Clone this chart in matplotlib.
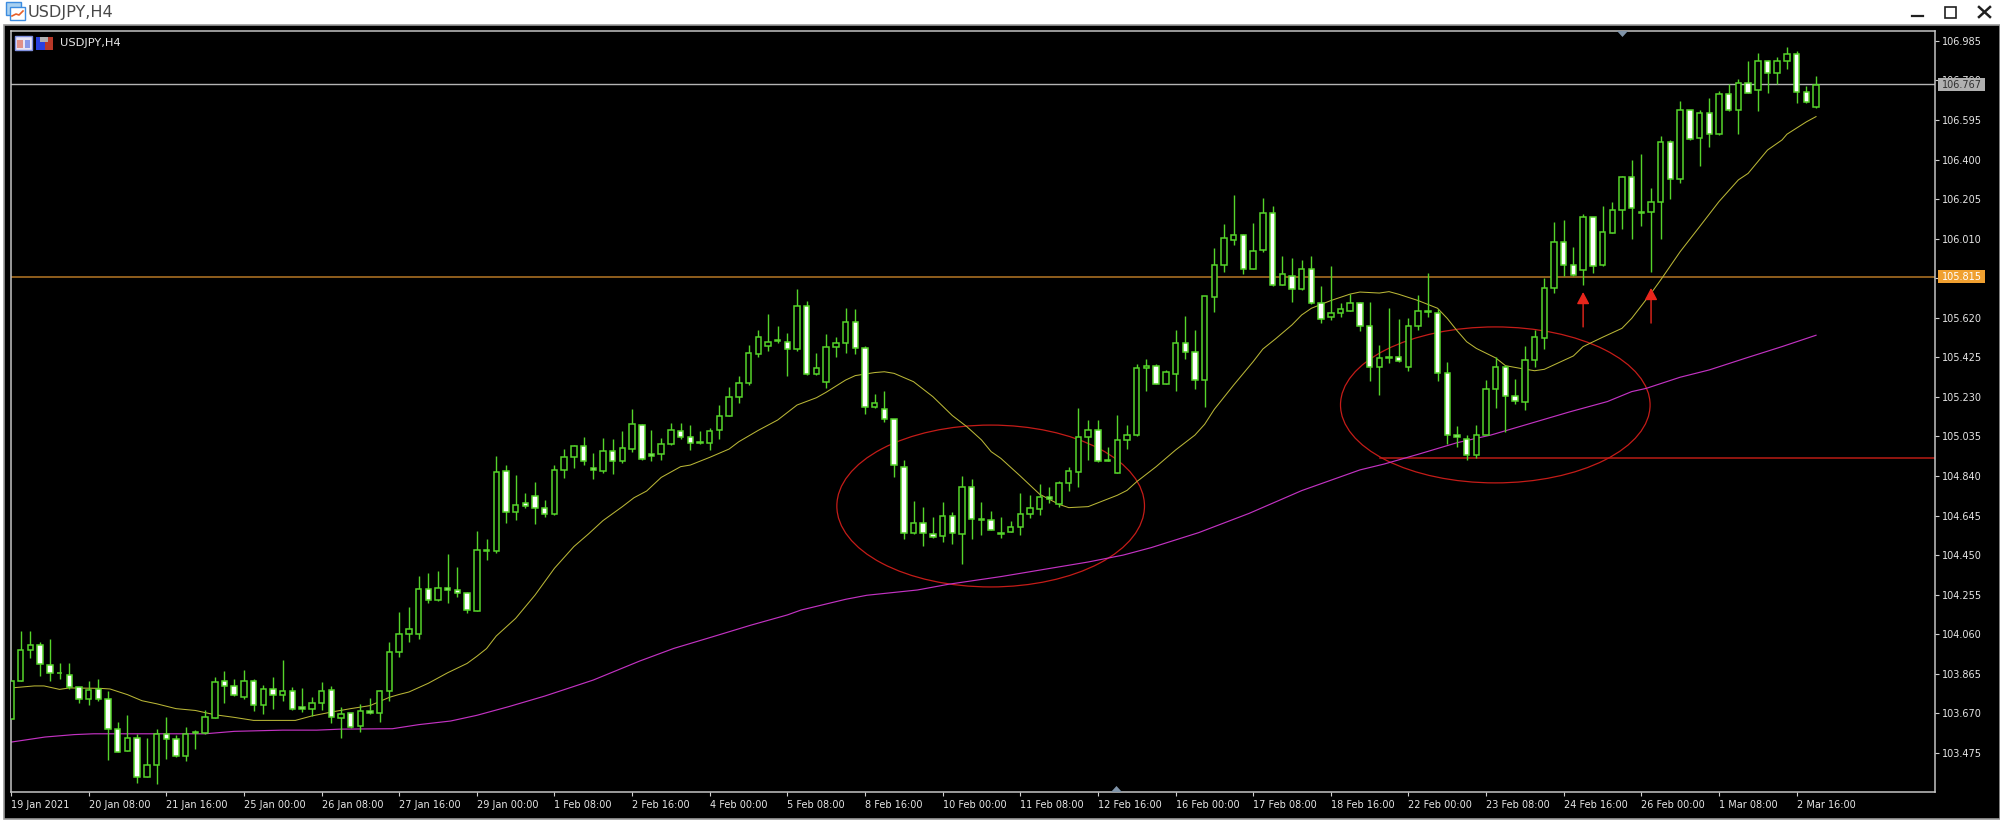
import numpy as np
from matplotlib import pyplot as plt
from matplotlib.patches import Ellipse, Rectangle, Polygon

# USDJPY H4 candles, one value per bar
opens = [103.643,103.827,103.984,104.008,103.906,103.870,103.857,103.798,103.739,103.791,
         103.739,103.594,103.486,103.546,103.354,103.415,103.569,103.541,103.458,103.574,
         103.574,103.648,103.827,103.803,103.749,103.827,103.709,103.791,103.762,103.778,
         103.703,103.689,103.719,103.786,103.648,103.671,103.606,103.683,103.671,103.778,
         103.971,104.059,104.059,104.281,104.227,104.288,104.276,104.265,104.173,104.469,
         104.469,104.863,104.664,104.708,104.743,104.684,104.651,104.868,104.934,104.990,
         104.881,104.866,104.965,104.916,104.975,105.090,104.947,104.947,104.999,105.060,
         105.031,105.008,105.004,105.065,105.138,105.228,105.297,105.442,105.479,105.511,
         105.502,105.466,105.677,105.341,105.305,105.474,105.497,105.599,105.473,105.179,
         105.172,105.119,104.886,104.557,104.610,104.556,104.546,104.641,104.556,104.786,
         104.630,104.623,104.552,104.564,104.587,104.654,104.676,104.736,104.700,104.804,
         104.861,105.031,105.067,104.919,104.856,105.018,105.041,105.371,105.384,105.292,
         105.341,105.497,105.450,105.312,105.724,105.879,106.005,106.030,105.861,105.956,
         106.139,105.783,105.825,105.760,105.862,105.695,105.622,105.645,105.654,105.695,
         105.581,105.376,105.425,105.425,105.376,105.581,105.652,105.645,105.348,105.042,
         105.024,104.945,105.041,105.269,105.379,105.235,105.203,105.414,105.522,105.767,
         105.994,105.880,105.857,106.119,105.878,106.040,106.150,106.316,106.143,106.143,
         106.191,106.485,106.305,106.646,106.508,106.628,106.525,106.724,106.645,106.778,
         106.742,106.886,106.826,106.886,106.923,106.735,106.658]
highs = [103.827,104.074,104.074,104.021,104.038,103.920,103.920,103.798,103.827,103.837,
         103.782,103.625,103.663,103.569,103.548,103.591,103.652,103.561,103.602,103.586,
         103.684,103.847,103.877,103.837,103.883,103.841,103.811,103.847,103.931,103.798,
         103.795,103.752,103.823,103.804,103.703,103.673,103.714,103.745,103.786,104.021,
         104.169,104.194,104.345,104.360,104.370,104.457,104.391,104.266,104.567,104.531,
         104.937,104.894,104.847,104.758,104.809,104.722,104.894,104.972,104.995,105.032,
         104.955,105.026,105.021,105.062,105.169,105.098,105.068,105.026,105.100,105.100,
         105.092,105.062,105.075,105.190,105.279,105.333,105.488,105.560,105.637,105.578,
         105.543,105.762,105.703,105.445,105.542,105.524,105.667,105.662,105.481,105.243,
         105.259,105.121,104.919,104.715,104.687,104.638,104.710,104.661,104.840,104.824,
         104.710,104.667,104.636,104.620,104.758,104.746,104.799,104.787,104.815,104.883,
         105.177,105.116,105.116,104.985,105.139,105.091,105.391,105.415,105.391,105.363,
         105.558,105.631,105.558,105.729,105.966,106.081,106.224,106.032,106.086,106.211,
         106.171,105.923,105.913,105.905,105.923,105.775,105.876,105.695,105.736,105.700,
         105.696,105.486,105.667,105.614,105.617,105.733,105.839,105.662,105.404,105.087,
         105.042,105.091,105.313,105.425,105.387,105.320,105.481,105.560,105.815,106.091,
         106.102,105.971,106.132,106.119,106.171,106.193,106.321,106.397,106.426,106.259,
         106.517,106.498,106.689,106.646,106.646,106.702,106.737,106.771,106.796,106.888,
         106.924,106.891,106.905,106.954,106.934,106.761,106.811]
lows = [103.643,103.827,103.944,103.854,103.831,103.837,103.788,103.722,103.712,103.729,
        103.441,103.479,103.486,103.328,103.354,103.323,103.446,103.454,103.435,103.495,
        103.569,103.647,103.722,103.754,103.742,103.683,103.668,103.693,103.729,103.688,
        103.676,103.657,103.688,103.622,103.550,103.597,103.579,103.668,103.627,103.729,
        103.949,104.021,104.038,104.215,104.225,104.214,104.243,104.164,104.173,104.427,
        104.459,104.610,104.621,104.681,104.603,104.639,104.648,104.830,104.878,104.896,
        104.824,104.855,104.848,104.902,104.960,104.921,104.916,104.919,104.995,105.022,
        104.968,104.999,104.968,105.021,105.136,105.200,105.290,105.428,105.458,105.494,
        105.333,105.458,105.340,105.340,105.274,105.428,105.448,105.440,105.147,105.177,
        105.106,104.837,104.531,104.556,104.497,104.533,104.513,104.506,104.406,104.531,
        104.549,104.572,104.533,104.562,104.549,104.633,104.648,104.705,104.687,104.764,
        104.787,104.919,104.911,104.916,104.856,104.973,105.039,105.261,105.292,105.292,
        105.261,105.417,105.267,105.179,105.650,105.848,105.979,105.836,105.861,105.945,
        105.777,105.783,105.698,105.759,105.688,105.596,105.609,105.626,105.654,105.557,
        105.310,105.238,105.399,105.404,105.359,105.560,105.626,105.310,104.998,104.985,
        104.919,104.927,105.041,105.177,105.057,105.195,105.165,105.379,105.466,105.741,
        105.828,105.826,105.782,105.843,105.877,106.037,106.056,106.010,106.074,105.846,
        106.010,106.206,106.285,106.497,106.370,106.464,106.523,106.638,106.525,106.727,
        106.638,106.727,106.773,106.849,106.681,106.681,106.656]
closes = [103.827,103.984,104.008,103.911,103.870,103.868,103.798,103.739,103.786,103.739,
          103.594,103.481,103.546,103.354,103.415,103.569,103.541,103.458,103.569,103.578,
          103.650,103.823,103.804,103.762,103.827,103.709,103.791,103.762,103.778,103.691,
          103.689,103.719,103.778,103.650,103.666,103.601,103.683,103.671,103.778,103.971,
          104.061,104.084,104.281,104.230,104.288,104.276,104.265,104.179,104.473,104.473,
          104.858,104.664,104.695,104.694,104.682,104.653,104.870,104.935,104.990,104.916,
          104.868,104.965,104.916,104.976,105.096,104.922,104.939,104.999,105.065,105.031,
          105.001,105.001,105.060,105.138,105.228,105.300,105.445,105.527,105.502,105.504,
          105.468,105.677,105.341,105.371,105.478,105.497,105.599,105.473,105.180,105.198,
          105.119,104.893,104.557,104.610,104.557,104.539,104.641,104.557,104.786,104.630,
          104.625,104.575,104.557,104.587,104.654,104.684,104.738,104.725,104.804,104.863,
          105.031,105.067,104.916,104.916,105.019,105.042,105.371,105.384,105.294,105.354,
          105.497,105.451,105.312,105.726,105.880,106.012,106.030,105.862,105.951,106.139,
          105.783,105.838,105.760,105.862,105.691,105.616,105.645,105.665,105.695,105.581,
          105.377,105.420,105.420,105.407,105.581,105.652,105.647,105.348,105.042,105.031,
          104.945,105.042,105.271,105.377,105.235,105.210,105.414,105.527,105.765,105.994,
          105.879,105.830,106.119,105.877,106.041,106.150,106.316,106.160,106.139,106.191,
          106.485,106.305,106.646,106.502,106.628,106.525,106.724,106.645,106.778,106.730,
          106.886,106.826,106.886,106.923,106.735,106.683,106.770]

# yellow moving average, sampled along the bars
fast_ma_bar = [0,2.4,3.4,5,6,9.2,10.2,12,13.5,15,17,19,21,23,25,27,29.3,31,33,35,37,39,40,41,43,45,47,48,49,50,
               52,54,56,58,59.5,61,63,64.2,65.5,67,69,70,72,74,75,77,79,81,83,84,86,87,89,90,91,93,95,97,98.5,100,101,102,
               104,106,108,109,111,114,115,116,118,120,122,123,124,126,128,129,130.3,132,133,134,136,138,139,141,142,143,145,147,148,149,150,151,153,
               154,155.5,157,158,161,162,164,166,167,169,170,172,174,176,178,179,181,182.5,183,185,186]
fast_ma = [103.795,103.805,103.805,103.788,103.795,103.793,103.790,103.762,103.732,103.717,103.693,103.684,103.663,103.650,103.635,103.635,103.635,103.657,103.676,103.693,103.708,103.749,103.763,103.775,103.818,103.870,103.916,103.951,103.989,104.051,
           104.138,104.253,104.385,104.492,104.554,104.620,104.689,104.733,104.766,104.833,104.886,104.894,104.932,104.973,105.009,105.065,105.116,105.190,105.226,105.253,105.313,105.335,105.350,105.354,105.346,105.305,105.231,105.138,105.083,105.018,104.960,104.927,
           104.840,104.750,104.700,104.684,104.689,104.745,104.769,104.812,104.886,104.968,105.042,105.095,105.169,105.289,105.404,105.466,105.516,105.585,105.634,105.667,105.705,105.737,105.747,105.742,105.749,105.736,105.705,105.667,105.617,105.557,105.502,105.469,105.422,
           105.384,105.371,105.359,105.366,105.432,105.478,105.524,105.568,105.617,105.741,105.807,105.946,106.069,106.193,106.300,106.332,106.447,106.497,106.525,106.586,106.612]

# magenta moving average
slow_ma_bar = [0,3.5,6.5,8.5,15,20,23,28,31.5,34,39.3,42,45.3,48,51.3,55,60,64.8,68.3,72,76.2,80,81.4,86,88.2,93.4,96.7,102,
               111,114.6,117.5,122.4,127.6,133,139,141.5,145,149,152.5,160.6,164.5,167,168.5,172,175,179,182.5,186]
slow_ma = [103.528,103.553,103.565,103.569,103.569,103.569,103.581,103.587,103.587,103.592,103.594,103.614,103.632,103.660,103.703,103.755,103.834,103.928,103.990,104.043,104.104,104.155,104.179,104.232,104.252,104.278,104.307,104.344,
           104.416,104.450,104.487,104.561,104.656,104.768,104.870,104.899,104.947,105.004,105.042,105.156,105.207,105.256,105.272,105.327,105.363,105.425,105.478,105.534]

date_labels = ['19 Jan 2021','20 Jan 08:00','21 Jan 16:00','25 Jan 00:00','26 Jan 08:00','27 Jan 16:00',
               '29 Jan 00:00','1 Feb 08:00','2 Feb 16:00','4 Feb 00:00','5 Feb 08:00','8 Feb 16:00',
               '10 Feb 00:00','11 Feb 08:00','12 Feb 16:00','16 Feb 00:00','17 Feb 08:00','18 Feb 16:00',
               '22 Feb 00:00','23 Feb 08:00','24 Feb 16:00','26 Feb 00:00','1 Mar 08:00','2 Mar 16:00']
date_bars = list(range(0, 192, 8))
price_ticks = [106.985,106.790,106.595,106.400,106.205,106.010,105.815,105.620,105.425,105.230,
               105.035,104.840,104.645,104.450,104.255,104.060,103.865,103.670,103.475]
price_labels = ['%.3f' % p for p in price_ticks]

bid_line = 106.771
level_line = 105.822
support_line = 104.929
support_start = 141.1
# (bar, tail price, tip price)
arrow_bars = [162, 169]
arrow_tails = [105.575, 105.594]
arrow_tips = [105.747, 105.767]
# (left bar, right bar, bottom price, top price)
ring_a = (85.1, 116.8, 104.293, 105.091)
ring_b = (137.0, 168.9, 104.806, 105.575)

GREEN = '#55d42a'

W, H = 2000, 824
plt.rcParams['font.family'] = 'DejaVu Sans'
fig = plt.figure(figsize=(W/100, H/100), dpi=100, facecolor='white')

# window frame behind the chart, in pixels
bg = fig.add_axes([0, 0, 1, 1], zorder=0)
bg.set_xlim(0, W)
bg.set_ylim(H, 0)
bg.axis('off')
bg.add_patch(Rectangle((4, 25), 1996, 794, fc='black', ec='#9a9a9a', lw=1.2))
bg.text(28, 12, 'USDJPY,H4', color='#484848', fontsize=11.6, va='center', ha='left')
bg.add_patch(Rectangle((6, 2), 15, 13, fc='#a8d0f0', ec='#3c8ce0', lw=1))
bg.add_patch(Rectangle((10, 7), 15, 13, fc='white', ec='#3c8ce0', lw=1))
bg.plot([12, 16, 19, 23], [16, 14, 15, 11], color='#e8602a', lw=1.2)
bg.plot([1912, 1923], [15.5, 15.5], color='#202020', lw=1.6)
bg.add_patch(Rectangle((1945, 7), 11, 11, fc='white', ec='#202020', lw=1.2))
bg.plot([1979, 1990], [7, 17], color='#202020', lw=1.8)
bg.plot([1979, 1990], [17, 7], color='#202020', lw=1.8)

ax = fig.add_axes([11/W, 1-792/H, (1935-11)/W, (792-31)/H], zorder=1)
ax.set_facecolor('black')
ax.set_xlim(0.03, 198.26)
ax.set_ylim(103.282, 107.034)

x = np.arange(len(opens))
o = np.array(opens)
c = np.array(closes)

ax.axhline(bid_line, color='#b4b4b4', lw=1, zorder=1)
ax.axhline(level_line, color='#a86e22', lw=1.2, zorder=1)
ax.plot([support_start, 198.26], [support_line, support_line], color='#b81c14', lw=1.1, zorder=1)
for ring in (ring_a, ring_b):
    ax.add_patch(Ellipse(((ring[0]+ring[1])/2, (ring[2]+ring[3])/2), ring[1]-ring[0], ring[3]-ring[2],
                         fc='none', ec='#c41c18', lw=0.9, zorder=1))

ax.plot(slow_ma_bar, slow_ma, color='#c232c2', lw=0.85, zorder=2)
ax.plot(fast_ma_bar, fast_ma, color='#b9b636', lw=0.75, zorder=2)

for b, tail, tip in zip(arrow_bars, arrow_tails, arrow_tips):
    ax.annotate('', xy=(b, tip), xytext=(b, tail), zorder=2,
                arrowprops=dict(arrowstyle='-|>,head_length=0.72,head_width=0.38', color='#e8261c',
                                lw=1, shrinkA=0, shrinkB=0, mutation_scale=10))

# wicks first, then bodies on top. up bars are hollow, down bars white
ax.vlines(x, lows, highs, color=GREEN, lw=1, zorder=3)
up = c >= o
ax.bar(x[up], (c-o)[up], bottom=o[up], width=0.56, facecolor='black', edgecolor=GREEN, lw=1.1, zorder=4)
ax.bar(x[~up], (c-o)[~up], bottom=o[~up], width=0.56, facecolor='white', edgecolor=GREEN, lw=1.1, zorder=4)

for s in ax.spines.values():
    s.set_color('#c4c4c4')
    s.set_linewidth(1.1)

ax.yaxis.tick_right()
ax.set_yticks(price_ticks)
ax.set_yticklabels(price_labels)
ax.tick_params(axis='y', length=2.9, width=0.8, color='#d0d0d0', labelcolor='#e6e6e6', labelsize=7, pad=2.2)
ax.set_xticks(date_bars)
ax.set_xticklabels(date_labels, ha='left')
ax.tick_params(axis='x', length=2.9, width=0.8, color='#d0d0d0', labelcolor='#e6e6e6', labelsize=7, pad=2.5)

# overlay: things on top of the axes, in pixels
top = fig.add_axes([0, 0, 1, 1], zorder=2)
top.set_xlim(0, W)
top.set_ylim(H, 0)
top.axis('off')
top.patch.set_alpha(0)
top.text(60, 43, 'USDJPY,H4', color='#e8e8e8', fontsize=8.2, va='center', ha='left')
top.add_patch(Rectangle((15, 36), 17, 14, fc='#e8e4f4', ec='#8090e0', lw=1))
top.add_patch(Rectangle((17, 40), 6, 8, fc='#e09088', ec='none'))
top.add_patch(Rectangle((25, 40), 5, 8, fc='#8898e8', ec='none'))
top.add_patch(Rectangle((36, 37), 9, 13, fc='#2840e0', ec='none'))
top.add_patch(Rectangle((45, 37), 8, 13, fc='#b83828', ec='none'))
top.add_patch(Rectangle((40, 37), 8, 5, fc='#b0b0b0', ec='none'))
top.add_patch(Polygon([(1617, 31), (1628, 31), (1622.5, 37)], fc='#7f93a8', ec='none'))
top.add_patch(Polygon([(1111, 792), (1122, 792), (1116.5, 786)], fc='#7f93a8', ec='none'))
top.add_patch(Rectangle((1938, 78), 47, 13, fc='#b0b0b0', ec='none'))
top.text(1961.5, 84.5, '106.767', color='#303030', fontsize=7, ha='center', va='center')
top.add_patch(Rectangle((1938, 269.5), 47, 13.5, fc='#f0a030', ec='none'))
top.text(1961.5, 276.5, '105.815', color='white', fontsize=7, ha='center', va='center')

fig.savefig('out.png', dpi=100, facecolor='white')
